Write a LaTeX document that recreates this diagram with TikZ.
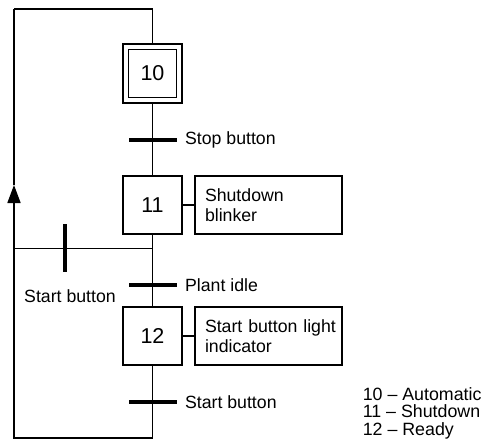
\documentclass[tikz,border=0pt]{standalone}
\usepackage{fontspec}
\setmainfont{Liberation Sans}
\usetikzlibrary{arrows.meta}
\begin{document}
\begin{tikzpicture}[x=1pt,y=-1pt,
  line width=1.6pt,
  stepbox/.style={draw,line width=1.8pt,minimum width=59pt,minimum height=58pt,inner sep=0pt,font=\fontsize{21.5}{24}\selectfont},
  actbox/.style={draw,line width=1.8pt,minimum width=147pt,minimum height=58pt,inner xsep=10pt,inner ysep=0pt,text width=127pt,align=left,font=\fontsize{17.7}{20.5}\selectfont},
  trbar/.style={fill=black,inner sep=0pt,minimum width=48pt,minimum height=4.5pt},
  lbl/.style={anchor=west,inner sep=0pt,font=\fontsize{17.7}{20}\selectfont},
  leg/.style={anchor=base west,inner sep=0pt,font=\fontsize{17.8}{20}\selectfont}]
\useasboundingbox (0,0) rectangle (483,445);
% steps
\node[stepbox,minimum height=59pt] (s10) at (152.5,73.5) {};
\node[stepbox,minimum width=48pt,minimum height=48pt] (s10in) at (s10.center) {10};
\node[stepbox] (s11) at (152.5,205) {11};
\node[stepbox] (s12) at (152.5,336) {12};
% actions
\node[actbox] (a11) at (268.5,205) {Shutdown\\blinker};
\node[actbox] (a12) at (268.5,336) {\mbox{Start button light}\\indicator};
% coordinates
\coordinate (tr) at (152.5,9);
\coordinate (tl) at (14,9);
\coordinate (br) at (152.5,438);
\coordinate (bl) at (14,438);
\coordinate (j) at (152.5,248.5);
\coordinate (jl) at (14,248.5);
\coordinate (ar) at (14,185);
% connectors
\draw (tl) -- (tr) -- (s10.north);
\draw (s10.south) -- (s11.north);
\draw (s11.south) -- (s12.north);
\draw (s12.south) -- (br) -- (bl) -- (jl);
\draw[-{Triangle[length=18pt,width=13pt]}] (jl) -- (ar);
\draw (ar) -- (tl);
\draw (j) -- (jl);
\draw (s11.east) -- (a11.west);
\draw (s12.east) -- (a12.west);
% transitions
\node[trbar] (t1) at (152.5,140) {};
\node[trbar] (t2) at (152.5,285) {};
\node[trbar] (t3) at (152.5,402) {};
\node[trbar,minimum width=4.5pt,minimum height=48pt] (t4) at (65,248) {};
\node[lbl] (l1) at ([xshift=7pt]t1.east) {Stop button};
\node[lbl] (l2) at ([xshift=7pt]t2.east) {Plant idle};
\node[lbl] (l3) at ([xshift=7pt]t3.east) {Start button};
\node[inner sep=0pt,font=\fontsize{17.7}{20}\selectfont] (l4) at (70,296) {Start button};
% legend
\node[leg] (g1) at (362,400) {10 -- Automatic};
\node[leg] (g2) at (362,417.5) {11 -- Shutdown};
\node[leg] (g3) at (362,435) {12 -- Ready};
\end{tikzpicture}
\end{document}
